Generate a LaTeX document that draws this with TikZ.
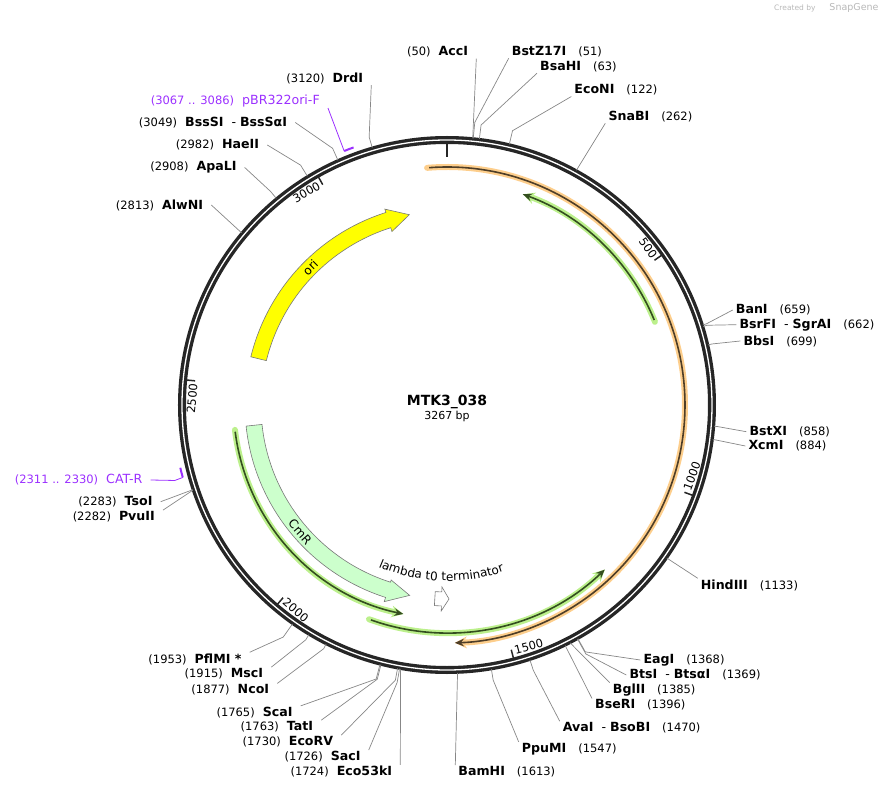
\documentclass[tikz,border=0pt]{standalone}
\usepackage{fontspec}
\setmainfont{DejaVu Sans}
\usepackage{xcolor}
\usetikzlibrary{arrows.meta, decorations.text}

\definecolor{rimcol}{RGB}{38,38,38}
\definecolor{leadgray}{RGB}{135,135,135}
\definecolor{featgray}{RGB}{120,120,120}
\definecolor{primerpurple}{RGB}{155,48,255}
\definecolor{orihue}{RGB}{255,255,0}
\definecolor{cmrhue}{RGB}{204,255,204}
\definecolor{orfOrangeHalo}{RGB}{253,206,140}
\definecolor{orfOrangeCore}{RGB}{78,62,40}
\definecolor{orfGreenHalo}{RGB}{188,240,140}
\definecolor{orfGreenCore}{RGB}{52,78,32}

\newcommand{\enzsize}{\fontsize{12.6}{15}\selectfont}

\begin{document}
\begin{tikzpicture}[x=1pt, y=1pt,
    leader/.style={draw=leadgray, line width=0.7pt},
    rlab/.style={anchor=west, inner xsep=3pt, inner ysep=1pt, font=\fontsize{11.5}{13}\selectfont},
    llab/.style={anchor=east, inner xsep=8pt, inner ysep=1pt, font=\fontsize{11.5}{13}\selectfont},
    plab/.style={llab, text=primerpurple},
    primerbar/.style={draw=primerpurple, line width=2pt},
    plead/.style={draw=primerpurple, line width=0.8pt},
    tickmark/.style={draw=rimcol, line width=1.5pt},
    ticklab/.style={inner sep=0pt, font=\fontsize{11.5}{13}\selectfont},
    orfhalo/.style={line width=6pt, line cap=round},
    orfcore/.style={line width=1.6pt},
    featbox/.style={draw=featgray, line width=0.6pt, line join=miter},
    featlab/.style={inner sep=0pt, font=\large}
]
\useasboundingbox (-447,-385) rectangle (445,405);

% features
\draw[featbox, fill=orihue] (166.2:202) arc[start angle=166.2, end angle=107.6, radius=202] -- (107.6:205.5) -- (101.2:194) -- (107.6:182) -- (107.6:186) arc[start angle=107.6, end angle=166.2, radius=186] -- cycle;
\draw[featbox, fill=cmrhue] (186:202) arc[start angle=186, end angle=252.3, radius=202] -- (252.3:206.4) -- (258.9:194) -- (252.3:183.7) -- (252.3:186) arc[start angle=252.3, end angle=186, radius=186] -- cycle;
\draw[featbox, fill=white] (266.4:201) arc[start angle=266.4, end angle=268.4, radius=201] -- (268.4:206) -- (270.6:194) -- (268.4:182) -- (268.4:187) arc[start angle=268.4, end angle=266.4, radius=187] -- cycle;

\node[featlab, rotate=44.8] (oriName) at (134.8:194) {ori};
\node[featlab, rotate=-49.2] (cmrName) at (220.8:194) {CmR};
\path[decorate, decoration={text along path, text align=center, text={|\large|lambda t0 terminator}}] (238:176) arc[start angle=238, end angle=298, radius=176];

% ORFs
\draw[orfhalo, draw=orfOrangeHalo, -{Stealth[length=12pt, width=12pt, line width=0pt]}] (94.8:238) arc[start angle=94.8, end angle=-88.1, radius=238];
\draw[orfcore, draw=orfOrangeCore, -{Stealth[length=9pt, width=7.5pt]}] (94.3:238) arc[start angle=94.3, end angle=-88.1, radius=238];
\draw[orfhalo, draw=orfGreenHalo, -{Stealth[length=12pt, width=12pt, line width=0pt]}] (21.8:224) arc[start angle=21.8, end angle=70.2, radius=224];
\draw[orfcore, draw=orfGreenCore, -{Stealth[length=9pt, width=7.5pt]}] (22.3:224) arc[start angle=22.3, end angle=70.2, radius=224];
\draw[orfhalo, draw=orfGreenHalo, -{Stealth[length=12pt, width=12pt, line width=0pt]}] (250:228) arc[start angle=250, end angle=313.8, radius=228];
\draw[orfcore, draw=orfGreenCore, -{Stealth[length=9pt, width=7.5pt]}] (250.5:228) arc[start angle=250.5, end angle=313.8, radius=228];
\draw[orfhalo, draw=orfGreenHalo, -{Stealth[length=12pt, width=12pt, line width=0pt]}] (186.7:213.5) arc[start angle=186.7, end angle=258.2, radius=213.5];
\draw[orfcore, draw=orfGreenCore, -{Stealth[length=9pt, width=7.5pt]}] (187.2:213.5) arc[start angle=187.2, end angle=258.2, radius=213.5];

% backbone
\draw[rimcol, line width=8pt] (0,0) circle[radius=265];
\draw[white, line width=1.3pt] (0,0) circle[radius=265];
\draw[rimcol, line width=2.4pt] (90:262) -- (90:248);
\draw[tickmark] (34.90:262) -- (34.90:253);
\draw[tickmark] (-20.19:262) -- (-20.19:253);
\draw[tickmark] (-75.29:262) -- (-75.29:253);
\draw[tickmark] (-130.39:262) -- (-130.39:253);
\draw[tickmark] (174.52:262) -- (174.52:253);
\draw[tickmark] (119.42:262) -- (119.42:253);
\node[ticklab, rotate=-55.1] (t500) at (37.9:255) {500};
\node[ticklab, rotate=69.81] (t1000) at (-16.19:255) {1000};
\node[ticklab, rotate=14.71] (t1500) at (-71.29:255) {1500};
\node[ticklab, rotate=-40.39] (t2000) at (-126.39:255) {2000};
\node[ticklab, rotate=84.52] (t2500) at (178.52:255) {2500};
\node[ticklab, rotate=29.42] (t3000) at (123.42:255) {3000};

\node[font=\fontsize{14}{16}\selectfont\bfseries] (title) at (0,3) {MTK3\_038};
\node[font=\fontsize{11}{13}\selectfont] (size) at (0,-11) {3267 bp};
\node[anchor=east, text=black!28, font=\fontsize{7.5}{8}\selectfont] (credit) at (435,397) {Created by\hspace{14pt}{\fontsize{9.5}{10}\selectfont SnapGene}};

% enzyme labels
\node[llab] (lAccI) at (29.3,353) {(50)\hspace{8pt}\textbf{\enzsize AccI}};
\node[rlab] (lBstZ) at (61.7,353.3) {\textbf{\enzsize BstZ17I}\hspace{12pt}(51)};
\node[rlab] (lBsaHI) at (90,338.3) {\textbf{\enzsize BsaHI}\hspace{12pt}(63)};
\node[rlab] (lEcoNI) at (124.3,315) {\textbf{\enzsize EcoNI}\hspace{12pt}(122)};
\node[rlab] (lSnaBI) at (158.3,288.3) {\textbf{\enzsize SnaBI}\hspace{12pt}(262)};
\node[rlab] (lBanI) at (285.7,95) {\textbf{\enzsize BanI}\hspace{12pt}(659)};
\node[rlab] (lBsrFI) at (289.3,80.3) {\textbf{\enzsize BsrFI}\hspace{8pt}{\enzsize -}\hspace{4pt}\textbf{\enzsize SgrAI}\hspace{12pt}(662)};
\node[rlab] (lBbsI) at (293.3,64) {\textbf{\enzsize BbsI}\hspace{12pt}(699)};
\node[rlab] (lBstXI) at (299.3,-26.7) {\textbf{\enzsize BstXI}\hspace{12pt}(858)};
\node[rlab] (lXcmI) at (298.3,-41) {\textbf{\enzsize XcmI}\hspace{12pt}(884)};
\node[rlab] (lHindIII) at (250.7,-180) {\textbf{\enzsize HindIII}\hspace{12pt}(1133)};
\node[rlab] (lEagI) at (193.3,-255) {\textbf{\enzsize EagI}\hspace{12pt}(1368)};
\node[rlab] (lBtsI) at (179.3,-270) {\textbf{\enzsize BtsI}\hspace{8pt}{\enzsize -}\hspace{4pt}\textbf{\enzsize BtsαI}\hspace{12pt}(1369)};
\node[rlab] (lBglII) at (162.7,-285) {\textbf{\enzsize BglII}\hspace{12pt}(1385)};
\node[rlab] (lBseRI) at (145,-300) {\textbf{\enzsize BseRI}\hspace{12pt}(1396)};
\node[rlab] (lAvaI) at (112.7,-322.7) {\textbf{\enzsize AvaI}\hspace{8pt}{\enzsize -}\hspace{4pt}\textbf{\enzsize BsoBI}\hspace{12pt}(1470)};
\node[rlab] (lPpuMI) at (71.7,-344) {\textbf{\enzsize PpuMI}\hspace{12pt}(1547)};
\node[rlab] (lBamHI) at (8.3,-366.7) {\textbf{\enzsize BamHI}\hspace{12pt}(1613)};
\node[llab] (lEco53kI) at (-46.7,-366.7) {(1724)\hspace{8pt}\textbf{\enzsize Eco53kI}};
\node[llab] (lSacI) at (-78.3,-351.7) {(1726)\hspace{8pt}\textbf{\enzsize SacI}};
\node[llab] (lEcoRV) at (-105.7,-336.7) {(1730)\hspace{8pt}\textbf{\enzsize EcoRV}};
\node[llab] (lTatI) at (-125.7,-321.7) {(1763)\hspace{8pt}\textbf{\enzsize TatI}};
\node[llab] (lScaI) at (-146.3,-307.5) {(1765)\hspace{8pt}\textbf{\enzsize ScaI}};
\node[llab] (lNcoI) at (-169.7,-285) {(1877)\hspace{8pt}\textbf{\enzsize NcoI}};
\node[llab] (lMscI) at (-175.7,-268.7) {(1915)\hspace{8pt}\textbf{\enzsize MscI}};
\node[llab] (lPflMI) at (-197.3,-254) {(1953)\hspace{8pt}\textbf{\enzsize PflMI *}};
\node[llab] (lPvuII) at (-284,-111.7) {(2282)\hspace{8pt}\textbf{\enzsize PvuII}};
\node[llab] (lTsoI) at (-286.3,-96.7) {(2283)\hspace{8pt}\textbf{\enzsize TsoI}};
\node[llab] (lAlwNI) at (-235.7,200) {(2813)\hspace{8pt}\textbf{\enzsize AlwNI}};
\node[llab] (lApaLI) at (-202.3,237.5) {(2908)\hspace{8pt}\textbf{\enzsize ApaLI}};
\node[llab] (lHaeII) at (-179.7,260) {(2982)\hspace{8pt}\textbf{\enzsize HaeII}};
\node[llab] (lBssSI) at (-151.7,282.5) {(3049)\hspace{8pt}\textbf{\enzsize BssSI}\hspace{8pt}{\enzsize -}\hspace{4pt}\textbf{\enzsize BssSαI}};
\node[llab] (lDrdI) at (-75.7,326.7) {(3120)\hspace{8pt}\textbf{\enzsize DrdI}};
\node[plab] (lCatR) at (-296.3,-75) {(2311 .. 2330)\hspace{8pt}{\enzsize CAT-R}};
\node[plab] (lOriF) at (-119,304.2) {(3067 .. 3086)\hspace{8pt}{\enzsize pBR322ori-F}};

% cut sites
\coordinate (sAccI) at (84.49:268);
\coordinate (sBstZ) at (84.38:268);
\coordinate (sBsaHI) at (83.06:268);
\coordinate (sEcoNI) at (76.56:268);
\coordinate (sSnaBI) at (61.13:268);
\coordinate (sBanI) at (17.38:268);
\coordinate (sBsrFI) at (17.05:268);
\coordinate (sBbsI) at (12.97:268);
\coordinate (sBstXI) at (-4.55:268);
\coordinate (sXcmI) at (-7.41:268);
\coordinate (sHindIII) at (-34.85:268);
\coordinate (sEagI) at (-60.74:268);
\coordinate (sBtsI) at (-60.85:268);
\coordinate (sBglII) at (-62.62:268);
\coordinate (sBseRI) at (-63.83:268);
\coordinate (sAvaI) at (-71.98:268);
\coordinate (sPpuMI) at (-80.47:268);
\coordinate (sBamHI) at (-87.74:268);
\coordinate (sEco53kI) at (-99.97:268);
\coordinate (sSacI) at (-100.19:268);
\coordinate (sEcoRV) at (-100.63:268);
\coordinate (sTatI) at (-104.27:268);
\coordinate (sScaI) at (-104.49:268);
\coordinate (sNcoI) at (-116.83:268);
\coordinate (sMscI) at (-121.02:268);
\coordinate (sPflMI) at (-125.21:268);
\coordinate (sPvuII) at (-161.46:268);
\coordinate (sTsoI) at (-161.57:268);
\coordinate (sAlwNI) at (140.03:268);
\coordinate (sApaLI) at (129.56:268);
\coordinate (sHaeII) at (121.40:268);
\coordinate (sBssSI) at (114.02:268);
\coordinate (sDrdI) at (106.20:268);
\coordinate (pCatR) at (-164.66:274);
\coordinate (pOriF) at (112.04:274);

% leaders
\draw[leader] (sAccI) -- (lAccI.south east);
\draw[leader] (sBstZ) -- ++(84.38:16) -- (lBstZ.south west);
\draw[leader] (sBsaHI) -- ++(83.06:14) -- (lBsaHI.south west);
\draw[leader] (sEcoNI) -- ++(76.56:14) -- (lEcoNI.south west);
\draw[leader] (sSnaBI) -- (lSnaBI.south west);
\draw[leader] (sBanI) -- ++(17.38:4) -- (lBanI.west);
\draw[leader] (sBsrFI) -- ++(17.05:4) -- (lBsrFI.west);
\draw[leader] (sBbsI) -- ++(12.97:4) -- (lBbsI.west);
\draw[leader] (sBstXI) -- ++(-4.55:3) -- (lBstXI.west);
\draw[leader] (sXcmI) -- ++(-7.41:3) -- (lXcmI.west);
\draw[leader] (sHindIII) -- (lHindIII.north west);
\draw[leader] (sEagI) -- ++(-60.74:15) -- (lEagI.west);
\draw[leader] (sBtsI) -- ++(-60.85:17) -- (lBtsI.west);
\draw[leader] (sBglII) -- (lBglII.north west);
\draw[leader] (sBseRI) -- (lBseRI.north west);
\draw[leader] (sAvaI) -- ++(-71.98:11) -- (lAvaI.north west);
\draw[leader] (sPpuMI) -- ++(-80.47:11) -- (lPpuMI.north west);
\draw[leader] (sBamHI) -- (lBamHI.north west);
\draw[leader] (sEco53kI) -- (lEco53kI.north east);
\draw[leader] (sSacI) -- ++(-100.19:14) -- (lSacI.north east);
\draw[leader] (sEcoRV) -- ++(-100.63:12) -- (lEcoRV.north east);
\draw[leader] (sTatI) -- ++(-104.27:15) -- (lTatI.north east);
\draw[leader] (sScaI) -- ++(-104.49:15) -- (lScaI.north east);
\draw[leader] (sNcoI) -- ++(-116.83:5) -- (lNcoI.north east);
\draw[leader] (sMscI) -- ++(-121.02:6) -- (lMscI.north east);
\draw[leader] (sPflMI) -- ++(-125.21:16) -- (lPflMI.north east);
\draw[leader] (sPvuII) -- (lPvuII.north east);
\draw[leader] (sTsoI) -- (lTsoI.east);
\draw[leader] (sAlwNI) -- (lAlwNI.east);
\draw[leader] (sApaLI) -- ++(129.56:9) -- (lApaLI.east);
\draw[leader] (sHaeII) -- ++(121.40:13) -- (lHaeII.east);
\draw[leader] (sBssSI) -- ++(114.02:13) -- (lBssSI.east);
\draw[leader] (sDrdI) -- ++(106.20:11) -- (lDrdI.south east);

% primers
\draw[primerbar] (pCatR) arc[start angle=-164.66, end angle=-166.75, radius=274];
\draw[primerbar] (pOriF) arc[start angle=112.04, end angle=109.94, radius=274];
\draw[plead] (pCatR) -- ++(-8,-3) -- (lCatR.east);
\draw[plead] (pOriF) -- (lOriF.south east);
\end{tikzpicture}
\end{document}
